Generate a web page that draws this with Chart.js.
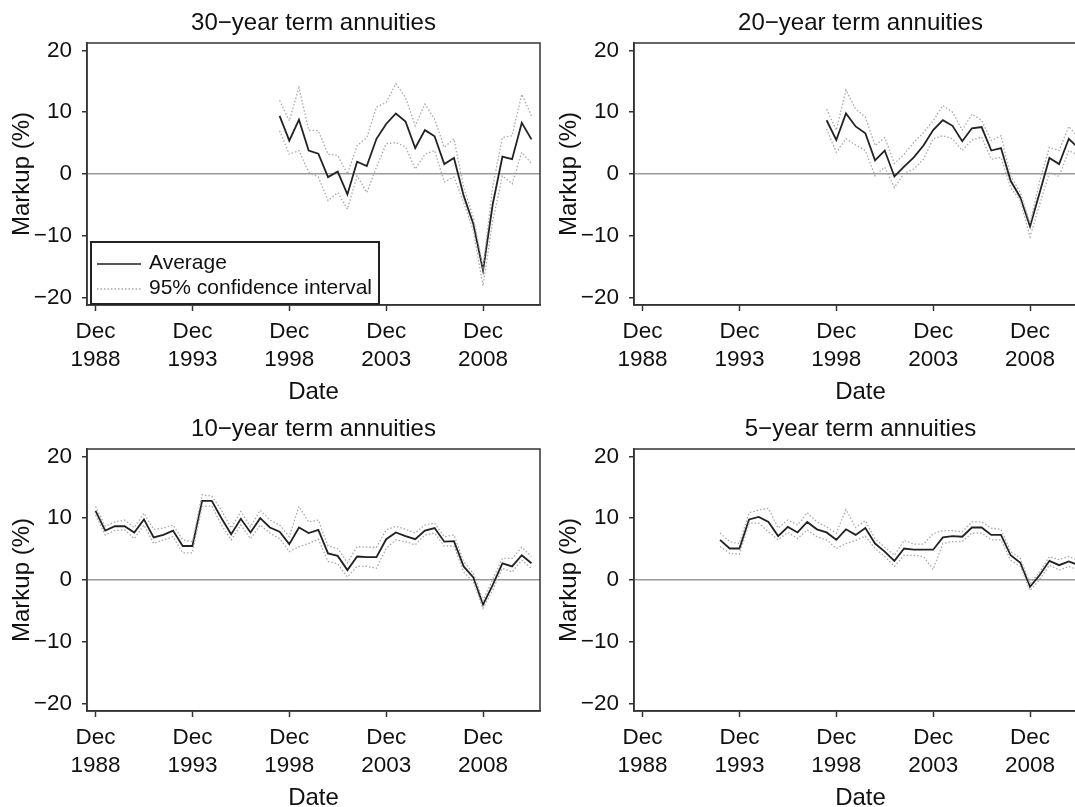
<!DOCTYPE html>
<html>
<head>
<meta charset="utf-8">
<script src="https://cdn.jsdelivr.net/npm/chart.js@4.4.0/dist/chart.umd.min.js"></script>
<style>
  html, body { margin: 0; padding: 0; background: #fff; overflow: hidden; width: 1075px; height: 807px; }
  #wrap { position: relative; width: 1075px; height: 807px; overflow: hidden; }
  canvas { position: absolute; }
</style>
</head>
<body>
<div id="wrap">
  <canvas id="c30" width="560" height="406" style="left:0;top:0"></canvas>
  <canvas id="c20" width="560" height="406" style="left:547px;top:0"></canvas>
  <canvas id="c10" width="560" height="406" style="left:0;top:406px"></canvas>
  <canvas id="c5" width="560" height="406" style="left:547px;top:406px"></canvas>
</div>
<script>
// half-year observation dates
const dates = [
  'Dec 1988', 'Jun 1989', 'Dec 1989', 'Jun 1990', 'Dec 1990', 'Jun 1991', 'Dec 1991', 'Jun 1992',
  'Dec 1992', 'Jun 1993', 'Dec 1993', 'Jun 1994', 'Dec 1994', 'Jun 1995', 'Dec 1995', 'Jun 1996',
  'Dec 1996', 'Jun 1997', 'Dec 1997', 'Jun 1998', 'Dec 1998', 'Jun 1999', 'Dec 1999', 'Jun 2000',
  'Dec 2000', 'Jun 2001', 'Dec 2001', 'Jun 2002', 'Dec 2002', 'Jun 2003', 'Dec 2003', 'Jun 2004',
  'Dec 2004', 'Jun 2005', 'Dec 2005', 'Jun 2006', 'Dec 2006', 'Jun 2007', 'Dec 2007', 'Jun 2008',
  'Dec 2008', 'Jun 2009', 'Dec 2009', 'Jun 2010', 'Dec 2010', 'Jun 2011'
]
const tickDates = ['Dec 1988', 'Dec 1993', 'Dec 1998', 'Dec 2003', 'Dec 2008']
const yTicks = [-20, -10, 0, 10, 20]

// 30-year term annuities (from Jun 1998)
const start30 = 'Jun 1998'
const avg30 = [9.4, 5.4, 8.8, 3.8, 3.3, -0.5, 0.4, -3.3, 2.0, 1.3, 5.7, 8.1, 9.8, 8.5, 4.2, 7.1, 6.1, 1.6, 2.6, -3.5, -8.1, -15.6, -4.9, 2.8, 2.4, 8.3, 5.6]
const up30 = [11.9, 8.6, 14.0, 7.1, 7.0, 3.2, 3.0, 0.0, 4.6, 5.9, 10.8, 11.6, 14.6, 12.4, 7.8, 11.3, 8.9, 4.3, 5.7, -2.2, -7.0, -15.1, -2.0, 5.9, 6.2, 12.9, 9.4]
const lo30 = [7.0, 3.2, 3.8, 0.3, -0.5, -4.3, -3.0, -5.7, -0.3, -3.0, 1.1, 4.9, 5.1, 4.4, 0.8, 3.2, 3.8, -1.3, -0.5, -4.6, -9.2, -18.1, -7.6, -0.3, -1.6, 3.5, 1.7]

// 20-year term annuities (from Jun 1998)
const start20 = 'Jun 1998'
const avg20 = [8.7, 5.5, 9.8, 7.7, 6.6, 2.2, 3.8, -0.4, 1.2, 2.7, 4.6, 7.1, 8.7, 7.8, 5.3, 7.4, 7.6, 3.8, 4.2, -1.1, -3.8, -8.5, -3.0, 2.6, 1.6, 5.7, 4.2]
const up20 = [10.5, 7.1, 13.6, 10.5, 9.2, 4.6, 5.9, 1.7, 3.2, 5.1, 6.7, 8.6, 11.1, 10.0, 7.1, 9.7, 8.7, 5.4, 6.2, -0.3, -3.0, -8.0, -1.1, 4.3, 3.8, 7.7, 5.9]
const lo20 = [7.3, 3.5, 5.7, 4.7, 3.8, -0.3, 1.1, -2.2, 0.1, 0.8, 2.4, 5.7, 6.2, 5.7, 3.8, 5.5, 6.0, 2.4, 2.7, -2.2, -4.3, -10.2, -4.9, 0.3, -0.4, 3.8, 3.0]

// 10-year term annuities (from Dec 1988)
const start10 = 'Dec 1988'
const avg10 = [11.2, 8.0, 8.7, 8.7, 7.7, 9.8, 6.9, 7.3, 8.0, 5.5, 5.5, 12.8, 12.8, 10.0, 7.4, 9.9, 7.7, 10.0, 8.5, 7.8, 5.8, 8.5, 7.6, 8.1, 4.3, 3.9, 1.6, 3.8, 3.7, 3.7, 6.6, 7.7, 7.1, 6.6, 8.0, 8.4, 6.2, 6.3, 2.2, 0.4, -4.0, -0.8, 2.7, 2.2, 4.0, 2.7]
const up10 = [11.9, 8.7, 9.4, 9.7, 8.5, 10.8, 8.2, 8.4, 8.9, 6.5, 6.2, 13.8, 13.6, 11.3, 8.4, 11.1, 8.6, 11.3, 9.7, 8.9, 7.0, 11.9, 9.4, 9.7, 5.5, 5.1, 2.8, 5.4, 5.3, 5.3, 8.1, 8.7, 8.2, 7.6, 8.9, 9.2, 7.0, 7.3, 3.0, 1.1, -3.3, 0.1, 3.5, 3.5, 5.3, 3.8]
const lo10 = [10.5, 7.3, 8.0, 8.1, 6.7, 8.9, 5.9, 6.5, 7.0, 4.4, 4.4, 11.9, 12.0, 8.9, 6.5, 8.9, 6.7, 8.9, 7.6, 6.7, 4.6, 5.4, 5.9, 6.6, 3.0, 2.6, 0.5, 2.2, 2.2, 1.9, 5.1, 6.5, 6.2, 5.7, 7.3, 7.6, 5.5, 5.5, 1.3, -0.3, -4.6, -1.6, 1.9, 1.3, 3.2, 1.9]

// 5-year term annuities (from Dec 1992)
const start5 = 'Dec 1992'
const avg5 = [6.5, 5.1, 5.1, 9.8, 10.2, 9.4, 7.1, 8.6, 7.7, 9.4, 8.2, 7.7, 6.5, 8.2, 7.3, 8.4, 5.9, 4.6, 3.1, 5.1, 4.9, 4.9, 4.9, 6.9, 7.1, 7.0, 8.5, 8.5, 7.3, 7.3, 4.0, 2.8, -1.1, 0.8, 3.1, 2.4, 3.0, 2.4]
const up5 = [7.6, 6.2, 5.9, 10.9, 11.3, 11.6, 8.4, 9.7, 8.9, 10.9, 9.4, 8.6, 7.6, 11.4, 8.5, 9.6, 6.7, 5.3, 4.0, 6.4, 5.8, 5.8, 7.5, 8.0, 8.0, 7.8, 9.4, 9.4, 8.4, 8.2, 4.6, 3.5, -0.6, 1.3, 3.8, 3.3, 3.8, 3.1]
const lo5 = [5.4, 4.3, 4.2, 9.2, 9.2, 7.8, 6.5, 7.7, 6.7, 8.1, 7.0, 6.5, 5.1, 5.9, 6.4, 7.1, 5.1, 3.8, 2.2, 4.0, 4.0, 3.8, 1.7, 5.9, 6.2, 6.2, 7.6, 7.6, 6.5, 6.5, 3.2, 2.2, -1.7, 0.1, 2.4, 1.6, 2.2, 1.6]

Chart.defaults.font.family = "'Liberation Sans', Arial, Helvetica, sans-serif"
Chart.defaults.color = '#111'

const TICK_FONT = 22.5
const TITLE_FONT = 24
const AVG_COLOR = '#222'
const CI_COLOR = '#a8a8a8'

// x value = years after Dec 1988
function toPoints(start, values) {
    const first = dates.indexOf(start)
    return values.map((v, i) => ({ x: (first + i) / 2, y: v }))
}

// box around plot, title above, and the legend inside the first panel
const panelDecor = {
    id: 'panelDecor',
    afterDraw(chart, args, opts) {
        const { ctx, chartArea: a } = chart
        ctx.save()
        ctx.strokeStyle = '#333'
        ctx.lineWidth = 1.5
        ctx.strokeRect(a.left, a.top, a.right - a.left, a.bottom - a.top)

        ctx.fillStyle = '#111'
        ctx.font = TITLE_FONT + "px 'Liberation Sans', Arial, sans-serif"
        ctx.textAlign = 'center'
        ctx.textBaseline = 'middle'
        ctx.fillText(opts.title, (a.left + a.right) / 2, 23)

        if (opts.legend) {
            const x = a.left + 4, w = 288, h = 62
            const y = a.bottom - h - 1
            ctx.fillStyle = '#fff'
            ctx.fillRect(x, y, w, h)
            ctx.lineWidth = 2
            ctx.strokeStyle = '#222'
            ctx.strokeRect(x, y, w, h)

            ctx.beginPath()
            ctx.strokeStyle = AVG_COLOR
            ctx.lineWidth = 1.7
            ctx.moveTo(x + 6, y + 22)
            ctx.lineTo(x + 50, y + 22)
            ctx.stroke()

            ctx.beginPath()
            ctx.setLineDash([1.5, 2])
            ctx.strokeStyle = CI_COLOR
            ctx.lineWidth = 1.3
            ctx.moveTo(x + 6, y + 47)
            ctx.lineTo(x + 50, y + 47)
            ctx.stroke()
            ctx.setLineDash([])

            ctx.fillStyle = '#111'
            ctx.font = "21px 'Liberation Sans', Arial, sans-serif"
            ctx.textAlign = 'left'
            ctx.fillText('Average', x + 58, y + 21)
            ctx.fillText('95% confidence interval', x + 58, y + 46)
        }
        ctx.restore()
    }
}

function makeChart(id, title, start, avg, up, lo, legend) {
    const ci = {
        borderColor: CI_COLOR,
        borderWidth: 1.3,
        borderDash: [1.5, 2],
        pointRadius: 0,
        fill: false,
    }
    return new Chart(document.getElementById(id), {
        type: 'line',
        data: {
            datasets: [
                { label: 'upper', data: toPoints(start, up), ...ci },
                { label: 'lower', data: toPoints(start, lo), ...ci },
                {
                    label: 'Average',
                    data: toPoints(start, avg),
                    borderColor: AVG_COLOR,
                    borderWidth: 1.8,
                    pointRadius: 0,
                    fill: false,
                },
            ]
        },
        options: {
            responsive: false,
            devicePixelRatio: 1,
            animation: false,
            layout: { padding: { top: 43, right: 20, left: 0, bottom: 0 } },
            plugins: {
                legend: { display: false },
                title: { display: false },
                tooltip: { enabled: false },
                panelDecor: { title: title, legend: legend },
            },
            scales: {
                x: {
                    type: 'linear',
                    min: -0.44,
                    max: 22.94,
                    afterBuildTicks: (s) => { s.ticks = tickDates.map(d => ({ value: dates.indexOf(d) / 2 })) },
                    afterFit: (s) => { s.height = 101 },
                    ticks: {
                        autoSkip: false,
                        maxRotation: 0,
                        padding: 7,
                        font: { size: TICK_FONT, lineHeight: 1.245 },
                        color: '#111',
                        callback: (v) => dates[Math.round(v * 2)].split(' '),
                    },
                    grid: {
                        drawOnChartArea: false,
                        drawTicks: true,
                        tickLength: 6,
                        tickColor: '#333',
                        tickWidth: 1.5,
                    },
                    border: { display: true, color: '#333', width: 1.5 },
                    title: {
                        display: true,
                        text: 'Date',
                        font: { size: TITLE_FONT },
                        color: '#111',
                        padding: { top: 0, bottom: -1 },
                    },
                },
                y: {
                    min: -21.2,
                    max: 21.2,
                    afterBuildTicks: (s) => { s.ticks = yTicks.map(v => ({ value: v })) },
                    afterFit: (s) => { s.width = 87 },
                    ticks: {
                        padding: 10,
                        font: { size: TICK_FONT },
                        color: '#111',
                        callback: (v) => (v < 0 ? '\u2212' + Math.abs(v) : String(v)),
                    },
                    grid: {
                        color: (c) => (c.tick && c.tick.value === 0 ? '#9a9a9a' : 'rgba(0,0,0,0)'),
                        lineWidth: 1.5,
                        drawTicks: true,
                        tickLength: 5,
                        tickColor: '#333',
                        tickWidth: 1.5,
                    },
                    border: { display: true, color: '#333', width: 1.5 },
                    title: {
                        display: true,
                        text: 'Markup (%)',
                        font: { size: TITLE_FONT },
                        color: '#111',
                        padding: { top: 8, bottom: 0 },
                    },
                },
            },
        },
        plugins: [panelDecor],
    })
}

makeChart('c30', '30\u2212year term annuities', start30, avg30, up30, lo30, true)
makeChart('c20', '20\u2212year term annuities', start20, avg20, up20, lo20, false)
makeChart('c10', '10\u2212year term annuities', start10, avg10, up10, lo10, false)
makeChart('c5', '5\u2212year term annuities', start5, avg5, up5, lo5, false)
</script>
</body>
</html>
